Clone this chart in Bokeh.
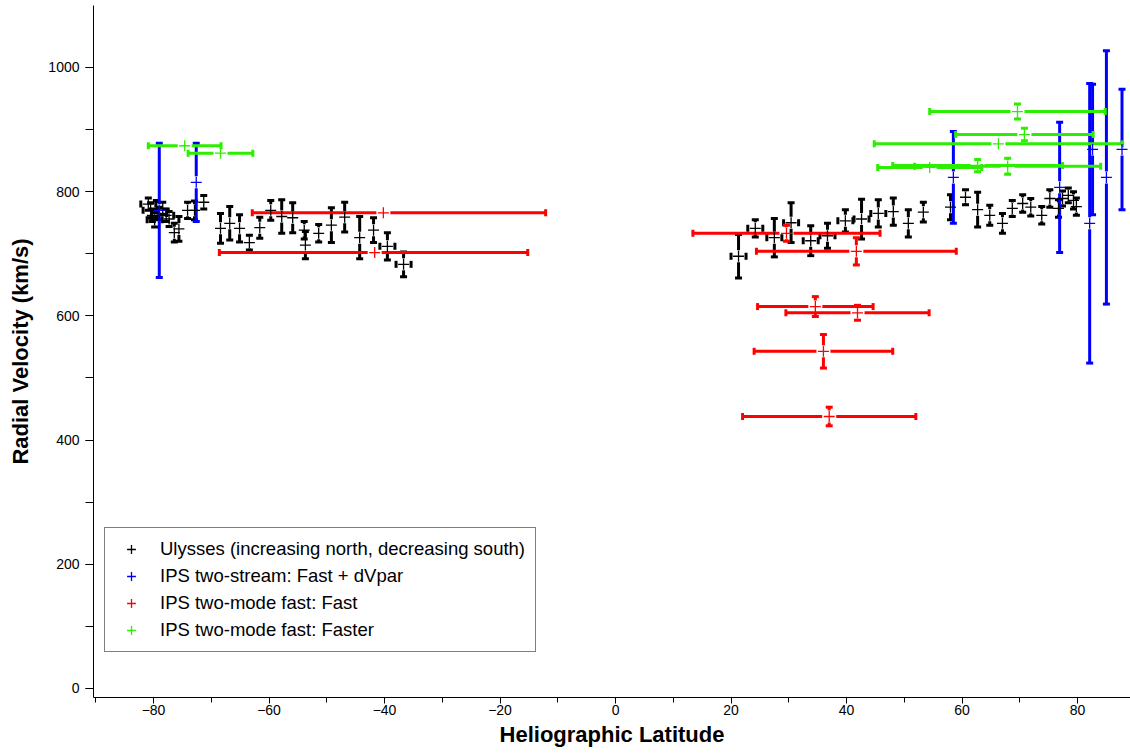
from bokeh.plotting import figure
from bokeh.models import (Whisker, TeeHead, ColumnDataSource, Range1d,
                          SingleIntervalTicker, Legend, LegendItem)
from bokeh.embed import file_html
from bokeh.resources import INLINE

# ---------------- data ----------------
# Ulysses (black): latitude, velocity, vertical error, horizontal error
uly_lat = [-80.9, -80.5, -80.2, -79.8, -79.5, -79.0, -78.4, -77.8, -77.3, -76.4,
           -75.6, -74.1, -72.9, -71.3, -68.4, -66.8, -65.1, -63.4, -61.6, -59.7,
           -57.8, -55.9, -53.9, -53.7, -51.4, -49.2, -46.9, -44.3, -41.9, -39.5,
           -36.7,
           21.3, 24.2, 27.5, 30.4, 33.8, 36.7, 39.8, 42.6, 45.5, 48.1,
           50.7, 53.3, 58.0, 60.6, 62.7, 64.8, 67.0, 68.7, 70.5, 71.9,
           73.8, 75.2, 76.7, 77.4, 78.4, 79.3, 79.8]
uly_v = [780, 770, 762, 755, 772, 765, 773, 762, 756, 734,
         740, 770, 770, 783, 741, 749, 741, 718, 742, 770,
         760, 758, 738, 714, 733, 746, 759, 726, 738, 712,
         683,
         696, 741, 726, 750, 721, 729, 753, 756, 765, 768,
         749, 767, 775, 791, 771, 762, 749, 773, 781, 775,
         762, 789, 773, 789, 794, 786, 776]
uly_err = [10, 12, 10, 12, 14, 10, 10, 10, 12, 15,
           20, 13, 15, 11, 24, 27, 22, 12, 17, 16,
           27, 24, 14, 22, 14, 28, 24, 34, 20, 22,
           20,
           35, 14, 31, 32, 24, 20, 18, 32, 22, 22,
           22, 16, 20, 12, 28, 16, 16, 13, 14, 14,
           14, 14, 14, 12, 12, 14, 14]
uly_xerr = [1.3, 1.3, 0, 1.3, 0, 1.3, 0, 1.3, 0, 0,
            0, 0, 0, 0, 0, 0, 0, 0, 0, 0,
            0, 0, 0, 0, 0, 0, 0, 0, 0, 1.3,
            1.3,
            1.3, 1.3, 1.3, 1.3, 1.3, 1.3, 1.3, 1.3, 1.3, 0,
            0, 0, 0, 0, 0, 0, 0, 0, 0, 0,
            0, 0, 0, 0, 0, 0, 0]

# IPS two-stream: Fast + dVpar (blue)
blue_lat = [-79.0, -72.6, 58.5, 76.9, 82.1, 82.6, 85.0, 87.7]
blue_v = [770, 815, 823, 807, 749, 868, 823, 868]
blue_err = [108, 63, 74, 105, 225, 105, 204, 97]

# IPS two-mode fast: Fast (red)
red_lat = [-40.2, -41.7, 29.6, 41.7, 34.6, 41.9, 36.0, 37.0]
red_v = [766, 702, 733, 704, 615, 605, 543, 438]
red_xlo = [22.7, 26.9, 16.2, 17.3, 10.0, 12.4, 12.0, 15.0]
red_xhi = [28.1, 26.5, 16.2, 17.3, 10.0, 12.4, 12.0, 15.0]
red_err = [0, 0, 13, 22, 16, 12, 27, 15]

# IPS two-mode fast: Faster (green)
green_lat = [-74.6, -68.4, 69.6, 70.8, 66.3, 54.4, 62.7, 67.9]
green_v = [874, 862, 929, 892, 877, 839, 842, 841]
green_xerr = [6.3, 5.6, 15.2, 11.9, 21.5, 9.0, 14.7, 16.1]
green_err = [0, 0, 12, 10, 0, 0, 10, 13]

legend_labels = ["Ulysses (increasing north, decreasing south)",
                 "IPS two-stream: Fast + dVpar",
                 "IPS two-mode fast: Fast",
                 "IPS two-mode fast: Faster"]

BLACK, BLUE, RED, GREEN = "#000000", "#0000ff", "#ff0000", "#2cee00"
FONT = "Liberation Sans"

# ---------------- figure ----------------
W, H = 1130, 754
ML, MT, MB, MR = 93, 5, 57, 0
X0, X1 = -90.39, 89.17
Y0, Y1 = -14.5, 1099.8
p = figure(width=W, height=H, x_range=Range1d(X0, X1), y_range=Range1d(Y0, Y1),
           output_backend="svg", toolbar_location=None,
           min_border_left=ML, min_border_right=MR, min_border_top=MT, min_border_bottom=MB)
p.outline_line_color = None
p.xgrid.visible = False
p.ygrid.visible = False
p.background_fill_color = "white"

FW = W - ML - MR
FH = H - MT - MB
px_x = (X1 - X0) / FW
px_y = (Y1 - Y0) / FH
VGAP = 6 * px_y
HGAP = 7 * px_x


def vbars(xs, ys, errs, color, lw=3):
    ux, ulo, uhi, lx, llo, lhi = [], [], [], [], [], []
    for x, y, e in zip(xs, ys, errs):
        if e <= 0:
            continue
        g = min(VGAP, e)
        ux.append(x); ulo.append(y + g); uhi.append(y + e)
        lx.append(x); llo.append(y - e); lhi.append(y - g)
    up = ColumnDataSource(dict(base=ux, lower=ulo, upper=uhi))
    dn = ColumnDataSource(dict(base=lx, lower=llo, upper=lhi))
    p.add_layout(Whisker(source=up, base="base", lower="lower", upper="upper",
                         dimension="height", line_color=color, line_width=lw,
                         lower_head=None,
                         upper_head=TeeHead(size=7, line_color=color, line_width=3)))
    p.add_layout(Whisker(source=dn, base="base", lower="lower", upper="upper",
                         dimension="height", line_color=color, line_width=lw,
                         upper_head=None,
                         lower_head=TeeHead(size=7, line_color=color, line_width=3)))


def hbars(xs, ys, lo, hi, color, lw=3):
    rx, rlo, rhi, lx, llo, lhi = [], [], [], [], [], []
    for x, y, a, b in zip(xs, ys, lo, hi):
        if b > 0:
            g = min(HGAP, b)
            rx.append(y); rlo.append(x + g); rhi.append(x + b)
        if a > 0:
            g = min(HGAP, a)
            lx.append(y); llo.append(x - a); lhi.append(x - g)
    r = ColumnDataSource(dict(base=rx, lower=rlo, upper=rhi))
    l = ColumnDataSource(dict(base=lx, lower=llo, upper=lhi))
    p.add_layout(Whisker(source=r, base="base", lower="lower", upper="upper",
                         dimension="width", line_color=color, line_width=lw,
                         lower_head=None,
                         upper_head=TeeHead(size=7, line_color=color, line_width=3)))
    p.add_layout(Whisker(source=l, base="base", lower="lower", upper="upper",
                         dimension="width", line_color=color, line_width=lw,
                         upper_head=None,
                         lower_head=TeeHead(size=7, line_color=color, line_width=3)))


# Ulysses
vbars(uly_lat, uly_v, uly_err, BLACK)
hbars(uly_lat, uly_v, uly_xerr, uly_xerr, BLACK)
r_uly = p.scatter(uly_lat, uly_v, marker="cross", size=11, line_color=BLACK, line_width=1.3)

# blue
vbars(blue_lat, blue_v, blue_err, BLUE)
r_blue = p.scatter(blue_lat, blue_v, marker="cross", size=11, line_color=BLUE, line_width=1.3)

# red
hbars(red_lat, red_v, red_xlo, red_xhi, RED)
vbars(red_lat, red_v, red_err, RED)
r_red = p.scatter(red_lat, red_v, marker="cross", size=11, line_color=RED, line_width=1.3)

# green
hbars(green_lat, green_v, green_xerr, green_xerr, GREEN)
vbars(green_lat, green_v, green_err, GREEN)
r_green = p.scatter(green_lat, green_v, marker="cross", size=11, line_color=GREEN, line_width=1.3)

# ---------------- axes ----------------
p.xaxis.ticker = SingleIntervalTicker(interval=20, num_minor_ticks=2)
p.yaxis.ticker = SingleIntervalTicker(interval=200, num_minor_ticks=2)
for ax in (p.xaxis[0], p.yaxis[0]):
    ax.axis_line_color = BLACK
    ax.major_tick_line_color = BLACK
    ax.minor_tick_line_color = BLACK
    ax.major_tick_in = 0
    ax.minor_tick_in = 0
    ax.major_label_text_font = FONT
    ax.major_label_text_color = BLACK
    ax.major_label_text_font_size = "14px"
    ax.axis_label_text_font = FONT
    ax.axis_label_text_font_style = "bold"
    ax.axis_label_text_color = BLACK
    ax.axis_label_text_font_size = "22px"

p.xaxis.major_tick_out = 6
p.xaxis.minor_tick_out = 5
p.xaxis.major_label_standoff = 1
p.xaxis.axis_label_standoff = 4
p.xaxis.axis_label = "Heliographic Latitude"

p.yaxis.major_tick_out = 8
p.yaxis.minor_tick_out = 8
p.yaxis.major_label_standoff = 6
p.yaxis.axis_label_standoff = 12
p.yaxis.axis_label = "Radial Velocity (km/s)"

# ---------------- legend ----------------
legend = Legend(items=[LegendItem(label=legend_labels[0], renderers=[r_uly]),
                       LegendItem(label=legend_labels[1], renderers=[r_blue]),
                       LegendItem(label=legend_labels[2], renderers=[r_red]),
                       LegendItem(label=legend_labels[3], renderers=[r_green])],
                location=(11, 45))
legend.label_text_font = FONT
legend.label_text_font_size = "18.5px"
legend.label_text_color = BLACK
legend.border_line_color = BLACK
legend.border_line_width = 1
legend.background_fill_color = "white"
legend.background_fill_alpha = 1
legend.padding = 10
legend.margin = 0
legend.spacing = 5
legend.glyph_width = 32
legend.glyph_height = 22
legend.label_height = 22
legend.label_standoff = 13
p.add_layout(legend)

open("out.html", "w").write(file_html(p, INLINE))
